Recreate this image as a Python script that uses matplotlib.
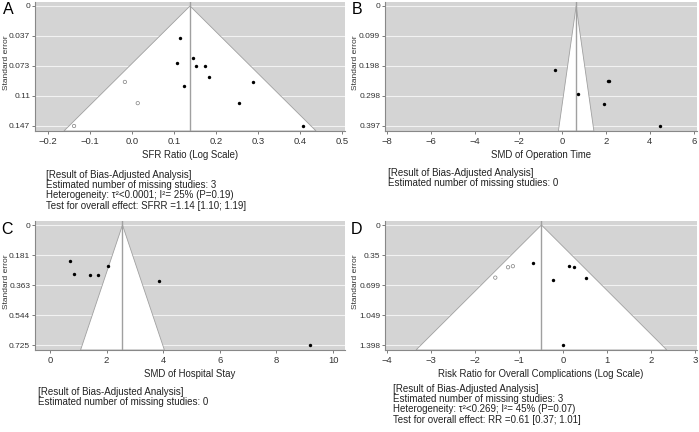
import numpy as np
import matplotlib.pyplot as plt

plt.rcParams['font.family'] = ['Liberation Sans', 'DejaVu Sans']

# Panel A: SFR ratio (log scale)
a_x = [0.114, 0.1445, 0.108, 0.152, 0.173, 0.183, 0.287, 0.123, 0.255, 0.408]
a_se = [0.0387, 0.0638, 0.0704, 0.0741, 0.0733, 0.0864, 0.093, 0.098, 0.119, 0.147]
a_fill_x = [-0.017, 0.0136, -0.138]
a_fill_se = [0.093, 0.119, 0.147]
a_center = 0.138
a_xticks = [-0.2, -0.1, 0.0, 0.1, 0.2, 0.3, 0.4, 0.5]
a_xlim = (-0.231, 0.507)
a_yticks = [0, 0.03675, 0.0735, 0.11025, 0.147]
a_ylabels = ['0', '0.037', '0.073', '0.11', '0.147']
a_xlabel = 'SFR Ratio (Log Scale)'
a_text = ['[Result of Bias-Adjusted Analysis]',
          'Estimated number of missing studies: 3',
          'Heterogeneity: τ²<0.0001; I²= 25% (P=0.19)',
          'Test for overall effect: SFRR =1.14 [1.10; 1.19]']

# Panel B: SMD of operation time
b_x = [-0.33, 0.72, 2.07, 2.11, 1.89, 4.46]
b_se = [0.213, 0.29, 0.247, 0.249, 0.323, 0.397]
b_fill_x = []
b_fill_se = []
b_center = 0.63
b_xticks = [-8, -6, -4, -2, 0, 2, 4, 6]
b_xlim = (-8.1, 6.15)
b_yticks = [0, 0.09925, 0.1985, 0.29775, 0.397]
b_ylabels = ['0', '0.099', '0.198', '0.298', '0.397']
b_xlabel = 'SMD of Operation Time'
b_text = ['[Result of Bias-Adjusted Analysis]',
          'Estimated number of missing studies: 0']

# Panel C: SMD of hospital stay
c_x = [0.69, 0.85, 1.41, 1.68, 2.06, 3.86, 9.19]
c_se = [0.218, 0.295, 0.303, 0.305, 0.249, 0.339, 0.722]
c_fill_x = []
c_fill_se = []
c_center = 2.56
c_xticks = [0, 2, 4, 6, 8, 10]
c_xlim = (-0.53, 10.42)
c_yticks = [0, 0.18125, 0.3625, 0.54375, 0.725]
c_ylabels = ['0', '0.181', '0.363', '0.544', '0.725']
c_xlabel = 'SMD of Hospital Stay'
c_text = ['[Result of Bias-Adjusted Analysis]',
          'Estimated number of missing studies: 0']

# Panel D: risk ratio for overall complications (log scale)
d_x = [-0.69, 0.137, 0.25, -0.22, 0.53, 0.008]
d_se = [0.445, 0.48, 0.492, 0.64, 0.613, 1.398]
d_fill_x = [-1.54, -1.25, -1.14]
d_fill_se = [0.613, 0.492, 0.48]
d_center = -0.49
d_xticks = [-4, -3, -2, -1, 0, 1, 2, 3]
d_xlim = (-4.05, 3.05)
d_yticks = [0, 0.3495, 0.699, 1.0485, 1.398]
d_ylabels = ['0', '0.35', '0.699', '1.049', '1.398']
d_xlabel = 'Risk Ratio for Overall Complications (Log Scale)'
d_text = ['[Result of Bias-Adjusted Analysis]',
          'Estimated number of missing studies: 3',
          'Heterogeneity: τ²<0.269; I²= 45% (P=0.07)',
          'Test for overall effect: RR =0.61 [0.37; 1.01]']

W, H = 699, 432
fig = plt.figure(figsize=(W / 100, H / 100), dpi=100)


def add_axes(left, top, right, bottom):
    return fig.add_axes([left / W, 1 - bottom / H, (right - left) / W, (bottom - top) / H])


def funnel(ax, x, se, fx, fse, center, xlim, xticks, yticks, ylabels, xlabel):
    ymax = yticks[-1]
    ybot = ymax * (1 + 5 / 120)
    ytop = -ymax * 4 / 120
    ax.set_facecolor('#d4d4d4')
    for t in yticks:
        ax.axhline(t, color='#f2f2f2', lw=0.8, zorder=0.5)
    ax.fill([center, center - 1.96 * ybot, center + 1.96 * ybot], [0, ybot, ybot],
            facecolor='white', edgecolor='#a0a0a0', lw=0.6, zorder=1)
    ax.axvline(center, color='#a0a0a0', lw=1.0, zorder=2)
    ax.scatter(x, se, s=6, color='black', zorder=3, linewidths=0)
    if fx:
        ax.scatter(fx, fse, s=6, facecolor='none', edgecolor='#808080', lw=0.5, zorder=3)
    ax.set_xlim(*xlim)
    ax.set_ylim(ybot, ytop)
    ax.set_xticks(xticks)
    ax.set_yticks(yticks)
    ax.set_yticklabels(ylabels)
    for s in ['top', 'right']:
        ax.spines[s].set_visible(False)
    for s in ['left', 'bottom']:
        ax.spines[s].set_color('#888888')
        ax.spines[s].set_linewidth(0.8)
    ax.tick_params(axis='x', labelsize=6.8, length=2.5, width=0.6, color='#666666',
                   labelcolor='#333333', pad=2)
    ax.tick_params(axis='y', labelsize=6.0, length=2.5, width=0.6, color='#666666',
                   labelcolor='#333333', pad=1)
    ax.set_xlabel(xlabel, fontsize=6.9, color='#222222')
    ax.xaxis.set_label_coords(0.5, -0.15)
    ax.set_ylabel('Standard error', fontsize=6.0, color='#333333')
    # position is the right edge of the rotated label
    ax.yaxis.set_label_coords(-0.082, 0.53)


ax_a = add_axes(35, 2, 345, 131)
funnel(ax_a, a_x, a_se, a_fill_x, a_fill_se, a_center, a_xlim, a_xticks, a_yticks, a_ylabels, a_xlabel)
ax_b = add_axes(385, 2, 697, 131)
funnel(ax_b, b_x, b_se, b_fill_x, b_fill_se, b_center, b_xlim, b_xticks, b_yticks, b_ylabels, b_xlabel)
ax_c = add_axes(35, 221, 345, 350)
funnel(ax_c, c_x, c_se, c_fill_x, c_fill_se, c_center, c_xlim, c_xticks, c_yticks, c_ylabels, c_xlabel)
ax_d = add_axes(385, 221, 697, 350)
funnel(ax_d, d_x, d_se, d_fill_x, d_fill_se, d_center, d_xlim, d_xticks, d_yticks, d_ylabels, d_xlabel)

# panel letters
for letter, px, py in [('A', 8, 9), ('B', 357, 9.5), ('C', 6.5, 230), ('D', 356.5, 229)]:
    fig.text(px / W, 1 - py / H, letter, fontsize=11.5, ha='center', va='center')

# result text blocks
for lines, px, py in [(a_text, 46, 174.7), (b_text, 387.7, 172.7), (c_text, 38, 391.7), (d_text, 393, 388.7)]:
    for i, line in enumerate(lines):
        fig.text(px / W, 1 - (py + i * 10.4) / H, line, fontsize=7.0, ha='left', va='center',
                 color='#222222')

fig.savefig('out.png', dpi=100)
